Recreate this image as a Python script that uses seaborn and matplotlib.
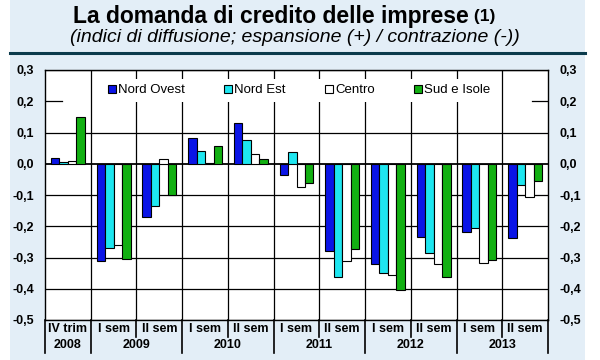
import matplotlib
matplotlib.use("Agg")
import matplotlib.pyplot as plt
import matplotlib.transforms as mtransforms
from matplotlib.patches import Rectangle
from matplotlib.lines import Line2D
import numpy as np
import pandas as pd
import seaborn as sns

# ── data ────────────────────────────────────────────────────
periodi = ["IV trim", "I sem", "II sem", "I sem", "II sem", "I sem",
           "II sem", "I sem", "II sem", "I sem", "II sem"]
anni = ["2008", "2009", "2009", "2010", "2010", "2011",
        "2011", "2012", "2012", "2013", "2013"]
aree = ["Nord Ovest", "Nord Est", "Centro", "Sud e Isole"]
nord_ovest = [0.020, -0.310, -0.170, 0.084, 0.129, -0.035, -0.280, -0.320, -0.234, -0.217, -0.236]
nord_est = [0.005, -0.270, -0.134, 0.041, 0.077, 0.038, -0.363, -0.350, -0.285, -0.206, -0.068]
centro = [0.010, -0.260, 0.015, 0.002, 0.030, -0.075, -0.310, -0.355, -0.320, -0.319, -0.106]
sud_isole = [0.150, -0.306, -0.100, 0.056, 0.016, -0.060, -0.274, -0.405, -0.363, -0.309, -0.055]
y_ticks = [0.3, 0.2, 0.1, 0.0, -0.1, -0.2, -0.3, -0.4, -0.5]

colori = ["#0a14e6", "#1ee6f0", "#ffffff", "#12b012"]
sfondo = "#e3eef7"

keys = [f"{p} {a}" for p, a in zip(periodi, anni)]
df = pd.DataFrame({
    "periodo": keys * 4,
    "area": np.repeat(aree, len(keys)),
    "valore": nord_ovest + nord_est + centro + sud_isole,
})

plt.rcParams["font.family"] = ["Liberation Sans", "DejaVu Sans"]

fig = plt.figure(figsize=(6, 3.6), dpi=100)
fig.patches.append(Rectangle((10 / 600, 0), 575 / 600, 1, transform=fig.transFigure,
                             facecolor=sfondo, edgecolor="none", zorder=-10))
fig.add_artist(Line2D([10 / 600, 585 / 600], [1 - 53 / 360] * 2, color="#0b3b4c", lw=2.2))

# ── titolo ──────────────────────────────────────────────────
titolo = fig.text(73 / 600, 1 - 17 / 360, "La domanda di credito delle imprese",
                  ha="left", va="center", fontsize=16.5, fontweight="bold")
fig.add_artist(matplotlib.text.Annotation(" (1)", xy=(1, 0.5), xycoords=titolo,
                                          va="center", ha="left", fontsize=12.5,
                                          fontweight="bold"))
fig.text(295 / 600, 1 - 38 / 360, "(indici di diffusione; espansione (+) / contrazione (-))",
         ha="center", va="center", fontsize=14, style="italic")

ax = fig.add_axes([45 / 600, 40 / 360, 503 / 600, 250 / 360])
ax.set_facecolor("white")

sns.barplot(data=df, x="periodo", y="valore", hue="area", palette=colori,
            edgecolor="black", linewidth=0.8, width=0.74, saturation=1,
            ax=ax, zorder=3)

n = len(keys)
ax.set_xlim(-0.5, n - 0.5)
ax.set_ylim(-0.5, 0.3)
ax.set_yticks(y_ticks)
ax.set_yticklabels([f"{v:.1f}".replace(".", ",") for v in y_ticks],
                   fontsize=9, fontweight="bold")
ax.tick_params(axis="y", length=0, labelright=True, pad=8)
ax.set_xticks([])
ax.set_xlabel("")
ax.set_ylabel("")
for s in ax.spines.values():
    s.set_color("black")
    s.set_linewidth(1)

# griglia orizzontale (la riga 0,2 resta coperta dalla legenda)
px = n / 503
for v in y_ticks:
    if v == 0.2:
        ax.plot([-0.5, -0.5 + 17 * px], [v, v], color="black", lw=0.9, zorder=2)
        ax.plot([n - 0.5 - 16 * px, n - 0.5], [v, v], color="black", lw=0.9, zorder=2)
    else:
        ax.axhline(v, color="black", lw=1.3 if v == 0 else 0.9, zorder=2)

# separatori verticali e etichette dell'asse x
trans = mtransforms.blended_transform_factory(ax.transData, ax.transAxes)
year_edges = [i for i in range(1, n) if anni[i] != anni[i - 1]]
for i in range(1, n):
    ax.axvline(i - 0.5, color="black", lw=0.9, zorder=2)
    bottom = -0.13 if i in year_edges else -0.068
    ax.plot([i - 0.5, i - 0.5], [0, bottom], color="black", lw=1.2,
            transform=trans, clip_on=False)
for x in (-0.5, n - 0.5):
    ax.plot([x, x], [0, -0.13], color="black", lw=1.2, transform=trans, clip_on=False)

for i, p in enumerate(periodi):
    ax.text(i, -0.035, p, transform=trans, ha="center", va="center",
            fontsize=9, fontweight="bold")
starts = [0] + year_edges
ends = year_edges + [n]
for s, e in zip(starts, ends):
    ax.text((s + e - 1) / 2, -0.1, anni[s], transform=trans, ha="center", va="center",
            fontsize=9, fontweight="bold")

leg = ax.legend(loc="upper center", bbox_to_anchor=(0.505, 0.99), ncol=4, frameon=True,
                fontsize=9.5, handlelength=0.6, handleheight=0.6, handletextpad=0.15,
                columnspacing=3.0, borderpad=0.4)
leg.get_frame().set_facecolor("white")
leg.get_frame().set_edgecolor("none")
leg.get_frame().set_alpha(1)
leg.set_zorder(5)

fig.savefig("out.png", dpi=100)
